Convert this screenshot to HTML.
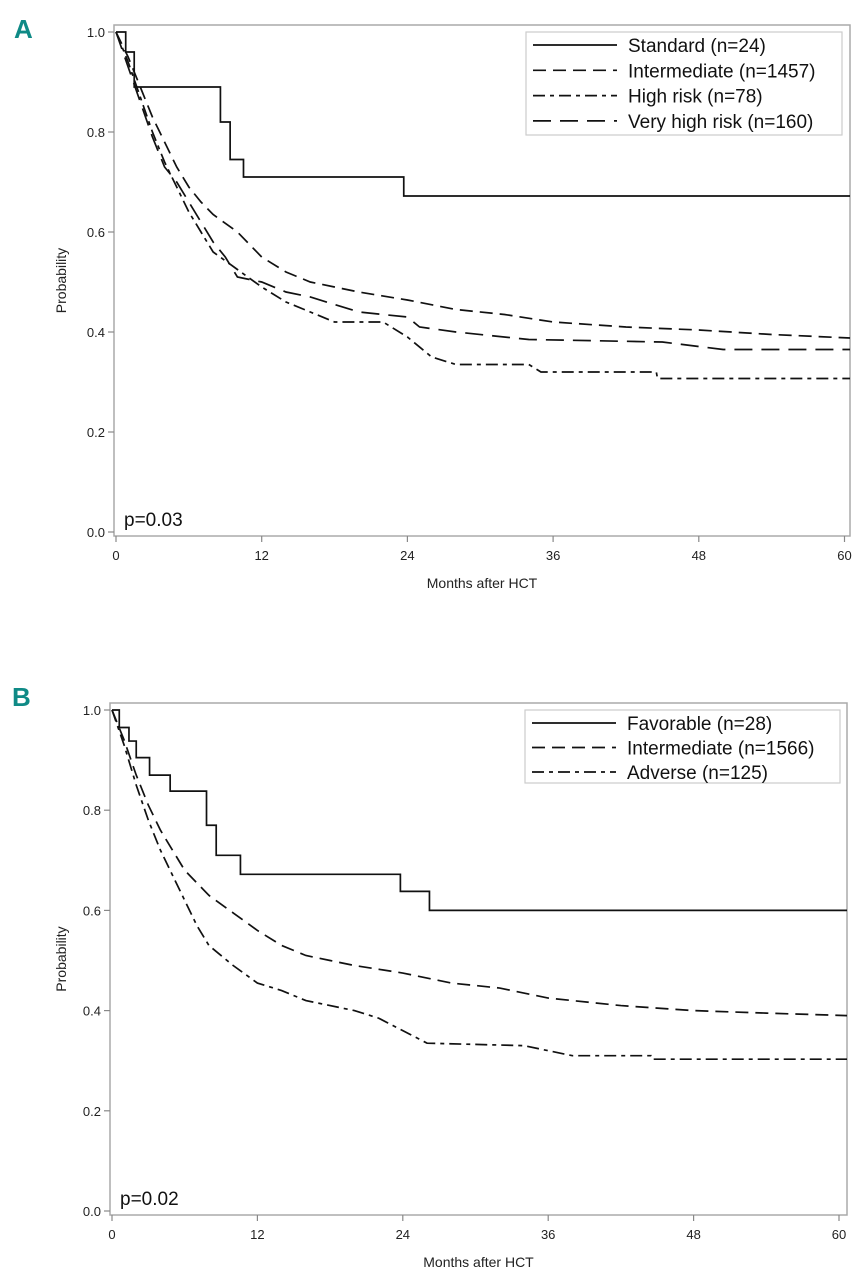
<!DOCTYPE html>
<html><head><meta charset="utf-8">
<style>
body{margin:0;background:#fff;}
svg{display:block;font-family:"Liberation Sans",Arial,sans-serif;}
</style></head>
<body>
<svg id="chart" width="866" height="1280" viewBox="0 0 866 1280"></svg>
<script>
// Panel A data: [month, probability]
const monthsTicks = [0, 12, 24, 36, 48, 60];
const probTicks = [0.0, 0.2, 0.4, 0.6, 0.8, 1.0];
const aStandard = [[0,1],[0.8,0.96],[1.5,0.89],[8.6,0.82],[9.4,0.745],[10.5,0.71],[23.7,0.672],[61,0.672]];
const aIntermediate = [[0,1],[1,0.95],[2,0.89],[3,0.83],[4,0.78],[5,0.73],[6,0.69],[7,0.66],[8,0.635],[10,0.60],[12,0.55],[14,0.52],[16,0.50],[18,0.49],[20,0.48],[24,0.464],[28,0.445],[32,0.435],[36,0.42],[42,0.41],[48,0.404],[54,0.395],[61,0.388]];
const aHighRisk = [[0,1],[1,0.94],[2,0.87],[3,0.80],[4,0.74],[5,0.69],[6,0.64],[7,0.60],[8,0.56],[10,0.525],[12,0.49],[14,0.46],[16,0.44],[18,0.42],[22,0.42],[24,0.39],[26,0.35],[28,0.335],[34,0.335],[35,0.32],[44.5,0.32],[44.6,0.307],[61,0.307]];
const aVeryHigh = [[0,1],[1,0.93],[2,0.86],[3,0.79],[4,0.73],[5,0.70],[6,0.66],[7,0.62],[8,0.58],[9,0.55],[10,0.51],[12,0.50],[14,0.48],[16,0.47],[18,0.455],[20,0.44],[24,0.43],[25,0.41],[28,0.40],[34,0.385],[45,0.38],[50,0.365],[61,0.365]];
// Panel B data
const bFavorable = [[0,1],[0.6,0.965],[1.4,0.938],[2.0,0.905],[3.1,0.87],[4.8,0.838],[7.8,0.77],[8.6,0.71],[10.6,0.672],[23.8,0.638],[26.2,0.60],[61,0.60]];
const bIntermediate = [[0,1],[1,0.94],[2,0.87],[3,0.81],[4,0.76],[5,0.72],[6,0.68],[7,0.655],[8,0.63],[10,0.595],[12,0.56],[14,0.53],[16,0.51],[18,0.50],[20,0.49],[24,0.475],[28,0.455],[32,0.445],[36,0.425],[42,0.41],[48,0.40],[54,0.395],[61,0.39]];
const bAdverse = [[0,1],[1,0.93],[2,0.85],[3,0.78],[4,0.72],[5,0.67],[6,0.62],[7,0.57],[8,0.53],[10,0.49],[12,0.455],[14,0.44],[16,0.42],[20,0.40],[22,0.385],[24,0.36],[26,0.335],[34,0.33],[38,0.31],[44.5,0.31],[44.6,0.303],[61,0.303]];

const NS='http://www.w3.org/2000/svg';
const svg=document.getElementById('chart');
function mk(tag,attrs,parent){const e=document.createElementNS(NS,tag);for(const k in attrs)e.setAttribute(k,attrs[k]);(parent||svg).appendChild(e);return e;}

const dashes={solid:'none',inter:'13 7',high:'12 5 4 5',vhigh:'18 9'};

function panel(cfg){
  const g=mk('g',{});
  
  
  const xS=m=>cfg.x0+(cfg.x60-cfg.x0)*m/60;
  const yS=p=>cfg.y0+(cfg.y1-cfg.y0)*p;
  const fr=mk('rect',{x:cfg.fl,y:cfg.ft,width:cfg.fr-cfg.fl,height:cfg.fb-cfg.ft,fill:'none',stroke:'#aaa','stroke-width':1.5},g);
  
  
  const lab=mk('text',{x:cfg.lx,y:cfg.ly,'font-size':26,'font-weight':'bold',fill:'#0f8a86'},g);
  lab.textContent=cfg.label;
  
  
  probTicks.forEach(p=>{
    const y=yS(p);
    mk('line',{x1:cfg.fl-6,x2:cfg.fl,y1:y,y2:y,stroke:'#888','stroke-width':1.2},g);
    const t=mk('text',{x:cfg.fl-9,y:y+5,'font-size':13,'text-anchor':'end',fill:'#222'},g);
    t.textContent=p.toFixed(1);
    
    
  });
  monthsTicks.forEach(m=>{
    const x=xS(m);
    mk('line',{x1:x,x2:x,y1:cfg.fb,y2:cfg.fb+6,stroke:'#888','stroke-width':1.2},g);
    const t=mk('text',{x:x,y:cfg.fb+24,'font-size':13,'text-anchor':'middle',fill:'#222'},g);
    t.textContent=m;
    
    
  });
  const xt=mk('text',{x:(cfg.fl+cfg.fr)/2,y:cfg.fb+52,'font-size':14,'text-anchor':'middle',fill:'#222'},g);
  xt.textContent='Months after HCT';
  
  
  const yc=(cfg.ft+cfg.fb)/2;
  const yt=mk('text',{x:66,y:yc,'font-size':14,'text-anchor':'middle',fill:'#222',transform:`rotate(-90 66 ${yc})`},g);
  yt.textContent='Probability';
  
  
  const pv=mk('text',{x:cfg.fl+10,y:cfg.fb-10,'font-size':19,fill:'#111'},g);
  pv.textContent=cfg.pval;
  
  
  cfg.series.forEach(s=>{
    let d='';
    s.data.forEach((pt,i)=>{
      const x=Math.min(xS(pt[0]),cfg.fr),y=yS(pt[1]);
      if(i===0)d+=`M${x},${y}`;
      else if(s.step)d+=`H${x}V${y}`;
      else d+=`L${x},${y}`;
    });
    d+=`H${cfg.fr}`;
    const p=mk('path',{d:d,fill:'none',stroke:'#111','stroke-width':1.7,'stroke-dasharray':dashes[s.style]},g);
    
    
  });
  const L=cfg.legend;
  const lb=mk('rect',{x:L.x,y:L.y,width:L.w,height:L.h,fill:'#fff',stroke:'#ccc','stroke-width':1.2},g);
  
  
  cfg.series.forEach((s,i)=>{
    const cy=L.r0+i*L.dr;
    mk('line',{x1:L.x+7,x2:L.x+91,y1:cy,y2:cy,stroke:'#111','stroke-width':1.7,'stroke-dasharray':dashes[s.style]},g);
    const t=mk('text',{x:L.x+102,y:cy+7,'font-size':19,fill:'#111'},g);
    t.textContent=s.label;
    
    
  });
}

panel({name:'panel-a',label:'A',lx:14,ly:38,fl:114,ft:25,fr:850,fb:536,x0:116,x60:844.5,y0:532,y1:32,pval:'p=0.03',
  legend:{x:526,y:32,w:316,h:103,r0:45,dr:25.3},
  series:[{key:'standard',style:'solid',step:true,data:aStandard,label:'Standard (n=24)'},
          {key:'intermediate',style:'inter',step:false,data:aIntermediate,label:'Intermediate (n=1457)'},
          {key:'high-risk',style:'high',step:false,data:aHighRisk,label:'High risk (n=78)'},
          {key:'very-high-risk',style:'vhigh',step:false,data:aVeryHigh,label:'Very high risk (n=160)'}]});
panel({name:'panel-b',label:'B',lx:12,ly:706,fl:110,ft:703,fr:847,fb:1215,x0:112,x60:839,y0:1211,y1:710,pval:'p=0.02',
  legend:{x:525,y:710,w:315,h:73,r0:723,dr:24.5},
  series:[{key:'favorable',style:'solid',step:true,data:bFavorable,label:'Favorable (n=28)'},
          {key:'intermediate',style:'inter',step:false,data:bIntermediate,label:'Intermediate (n=1566)'},
          {key:'adverse',style:'high',step:false,data:bAdverse,label:'Adverse (n=125)'}]});
</script>
</body></html>
